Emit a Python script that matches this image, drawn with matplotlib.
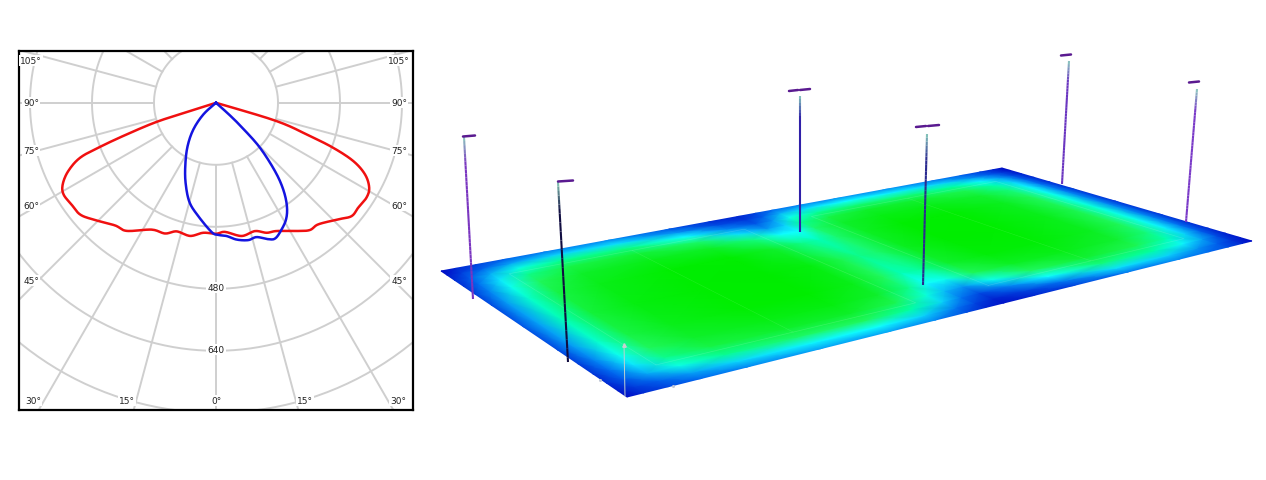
import numpy as np
import matplotlib
matplotlib.use("Agg")
import matplotlib.pyplot as plt
from matplotlib.collections import LineCollection
from matplotlib.colors import LinearSegmentedColormap, to_rgb

# ---- photometric curves (angle from nadir in degrees, intensity in cd) ----
red_angle = [-73, -72.3, -72.2, -70.5, -69.2, -68, -65.2, -62, -59, -54.8, -50.6, -46.4, -39.5, -34.9, -26.9,
             -21.3, -17, -11, -5.6, 0, 4, 10.9, 16.9, 21.3, 25.3, 32.2, 36.4, 40.1, 46.4, 50.1,
             53.6, 57.8, 61, 64.3, 67, 69, 70.5, 73.2, 73.2]
red_cd = [0, 79, 161, 245, 320, 378, 420, 448, 459, 456, 454, 437, 410, 403, 367,
          362, 347, 350, 337, 338, 334, 350, 346, 360, 366, 391, 408, 410, 436, 456,
          456, 459, 452, 427, 385, 324, 257, 163, 0]
blue_angle = [-47.4, -47.4, -40.4, -33.2, -26.4, -20.8, -15, -8.9, -1.9, 1, 4.6, 8.6, 13.2, 16.8,
              21, 23.5, 26.7, 31, 34.5, 37.8, 40.8, 44.4, 46.4, 47.9, 47.9]
blue_cd = [0, 44, 90, 134, 178, 221, 265, 296, 334, 341, 345, 357, 364, 362,
           377, 382, 371, 351, 323, 283, 233, 162, 97, 49, 0]

ring_values = [160, 320, 480, 640, 800]
spoke_angles = [0, 15, 30, 45, 60, 75, 90, 105, 120, 135, 150]
angle_labels = ["105°", "90°", "75°", "60°", "45°"]
bottom_labels = ["30°", "15°", "0°", "15°", "30°"]

# ---- illuminance field on the ground plane (0 dark blue .. 1 full green) ----
field_u = [0, .02, .05, .09, .15, .25, .35, .42, .47, .5, .53, .58, .65, .75, .85, .91, .95, .98, 1]
field_v = [0, .04, .09, .15, .22, .32, .5, .68, .78, .85, .91, .96, 1]
field_values = [
    [.03, .09, .15, .22, .26, .30, .30, .26, .16, .08, .04, .08, .14, .24, .26, .22, .16, .08, .02],
    [.06, .13, .21, .30, .37, .41, .42, .36, .24, .15, .08, .14, .24, .38, .36, .28, .20, .11, .05],
    [.09, .19, .31, .45, .55, .61, .62, .52, .36, .24, .16, .26, .42, .58, .52, .41, .29, .16, .07],
    [.11, .23, .39, .56, .69, .76, .78, .66, .46, .33, .28, .44, .62, .74, .65, .51, .36, .20, .09],
    [.13, .26, .44, .63, .77, .86, .88, .76, .56, .42, .44, .64, .80, .85, .74, .58, .40, .23, .10],
    [.16, .29, .48, .69, .84, .94, .96, .84, .62, .50, .54, .76, .92, .92, .81, .63, .44, .25, .12],
    [.18, .30, .50, .72, .88, .98, 1.0, .88, .66, .56, .60, .82, .97, .96, .84, .66, .46, .26, .12],
    [.16, .29, .48, .69, .84, .94, .94, .76, .56, .50, .60, .80, .94, .94, .81, .63, .44, .25, .12],
    [.14, .26, .44, .63, .77, .84, .78, .58, .42, .42, .60, .76, .86, .85, .74, .58, .40, .23, .10],
    [.11, .23, .39, .56, .68, .72, .60, .38, .28, .36, .54, .68, .76, .74, .65, .51, .36, .20, .09],
    [.09, .19, .31, .45, .54, .56, .42, .26, .18, .28, .44, .54, .58, .58, .52, .41, .29, .16, .07],
    [.05, .13, .21, .30, .36, .38, .28, .16, .12, .20, .32, .38, .42, .40, .36, .28, .20, .11, .05],
    [.02, .08, .14, .20, .25, .27, .18, .10, .08, .14, .22, .26, .28, .28, .25, .20, .14, .08, .02],
]

# ---- layout helpers -------------------------------------------------------
W, H = 1266, 481
PLANE = dict(a=1059.3, b=-67.5, c=627, d=-72.05, e=-52.9, f=398, g=.3469, h=.2687)
POLE_BASE_X = [473, 568, 800, 923, 1062, 1186]
POLE_BASE_Y = [300, 363, 233, 286, 185, 223]
POLE_TOP_X = [464, 558, 800, 927, 1069, 1197]
POLE_TOP_Y = [138, 183, 97, 135, 62, 90]
HEADS = [[(463, 475, 137)], [(558, 573, 182)], [(789, 798, 91.5), (800, 810, 90.5)],
         [(916, 926, 127.5), (928, 939, 126.5)], [(1061, 1071, 56)], [(1189, 1199, 83)]]
POLE_COLOR = ["#7a35c0", "#100c40", "#3020a8", "#2a2a90", "#6a35c0", "#7a3ac8"]


def plane(u, v):
    p = PLANE
    w = p["g"] * u + p["h"] * v + 1
    return (p["a"] * u + p["b"] * v + p["c"]) / w, (p["d"] * u + p["e"] * v + p["f"]) / w


def smooth(x, y, n=12):
    x, y = np.asarray(x, float), np.asarray(y, float)
    P = np.column_stack([x, y])
    P = np.vstack([P[0], P, P[-1]])
    out = []
    t = np.linspace(0, 1, n, endpoint=False)[:, None]
    for i in range(1, len(P) - 2):
        p0, p1, p2, p3 = P[i - 1], P[i], P[i + 1], P[i + 2]
        out.append(.5 * (2 * p1 + (p2 - p0) * t + (2 * p0 - 5 * p1 + 4 * p2 - p3) * t ** 2
                         + (3 * p1 - p0 - 3 * p2 + p3) * t ** 3))
    out.append(P[-1:])
    return np.vstack(out).T


def polar_xy(angle, cd):
    a = np.radians(angle)
    cd = np.asarray(cd, float)
    return cd * np.sin(a), -cd * np.cos(a)


fig = plt.figure(figsize=(W / 100, H / 100), dpi=100, facecolor="white")

# ---- left: polar candela diagram ------------------------------------------
L, R, T, B = 19, 413, 51, 410
OFF = 0.8
ax = fig.add_axes([L / W, 1 - (B + OFF) / H, (R - L) / W, (B - T) / H])
cx, cy = 216, 103
k = 160 / 62
ax.set_xlim((L - cx) * k, (R - cx) * k)
ax.set_ylim(-(B - cy) * k, (cy - T) * k)
ax.set_xticks([])
ax.set_yticks([])
for s in ax.spines.values():
    s.set_linewidth(1.6)
    s.set_color("black")
grid = "#cfcfcf"
th = np.linspace(0, 2 * np.pi, 361)
for r in ring_values:
    ax.plot(r * np.cos(th), r * np.sin(th), color=grid, lw=1.4, zorder=1)
for a in spoke_angles:
    for sign in ((1,) if a == 0 else (1, -1)):
        x, y = polar_xy(np.array([sign * a, sign * a]), np.array([160, 1400]))
        ax.plot(x, y, color=grid, lw=1.4, zorder=1)
ax.plot(*smooth(*polar_xy(red_angle, red_cd)), color="#f01010", lw=1.8, zorder=4)
ax.plot(*smooth(*polar_xy(blue_angle, blue_cd)), color="#1414e0", lw=1.8, zorder=5)


def label(px, py, s):
    ax.text((px - cx) * k, (cy - py) * k, s, ha="center", va="center", fontsize=6.5, color="#222222",
            zorder=3, bbox=dict(facecolor="white", edgecolor="none", pad=0.8))


for py, s in zip([61, 103, 151, 206, 281], angle_labels):
    label(31, py, s)
    label(399, py, s)
for px, s in zip([33, 127, 216, 305, 398], bottom_labels):
    label(px, 401, s)
label(216, 288, "480")
label(216, 350, "640")

# ---- right: false-colour ground plane with lighting poles ------------------
ov = fig.add_axes([0, 0, 1, 1], zorder=-1)
ov.set_xlim(0, W)
ov.set_ylim(H, 0)
ov.axis("off")
cmap = LinearSegmentedColormap.from_list("field", [
    (0, "#0000c0"), (.22, "#0068f0"), (.42, "#10ffff"), (.52, "#00ffa8"), (.62, "#20f860"),
    (.75, "#10f030"), (.95, "#00ee00"), (1, "#00ec00")])
U, V = np.meshgrid(field_u, field_v)
X, Y = plane(U, V)
ov.pcolormesh(X, Y, np.array(field_values), cmap=cmap, vmin=0, vmax=1, shading="gouraud", zorder=1)

# faint pitch markings
for u0, u1 in ((.07, .44), (.56, .93)):
    uu = np.array([u0, u1, u1, u0, u0])
    vv = np.array([.12, .12, .88, .88, .12])
    ov.plot(*plane(uu, vv), color="white", lw=.5, alpha=.14, zorder=2)
    um = (u0 + u1) / 2
    ov.plot(*plane(np.array([um, um]), np.array([.12, .88])), color="white", lw=.4, alpha=.12, zorder=2)

for bx, by, tx, ty, col, heads in zip(POLE_BASE_X, POLE_BASE_Y, POLE_TOP_X, POLE_TOP_Y, POLE_COLOR, HEADS):
    t = np.linspace(0, 1, 41)
    xs, ys = bx + (tx - bx) * t, by + (ty - by) * t
    segs = np.stack([np.column_stack([xs[:-1], ys[:-1]]), np.column_stack([xs[1:], ys[1:]])], axis=1)
    c = np.array(to_rgb(col))
    top = np.array(to_rgb("#90d8c0"))
    cols = [c + (top - c) * np.clip((q - .82) / .18, 0, 1) for q in t[:-1]]
    ov.add_collection(LineCollection(segs, colors=cols, linewidths=1.5, zorder=3))
    for h0, h1, hy in heads:
        ov.plot([h0, h1], [hy + .5, hy - .5], color="#5a1a90", lw=1.8, zorder=4, solid_capstyle="round")

ov.plot([624, 625], [345, 397], color="#c0d0d0", lw=.7, zorder=3)
ov.plot([624], [346], marker="^", ms=2.5, color="#c8d0d0", zorder=3)
ov.plot([600, 673], [381, 387], ls="none", marker="o", ms=1.2, color="#c0c8d8", zorder=3)

fig.savefig("out.png", dpi=100)
